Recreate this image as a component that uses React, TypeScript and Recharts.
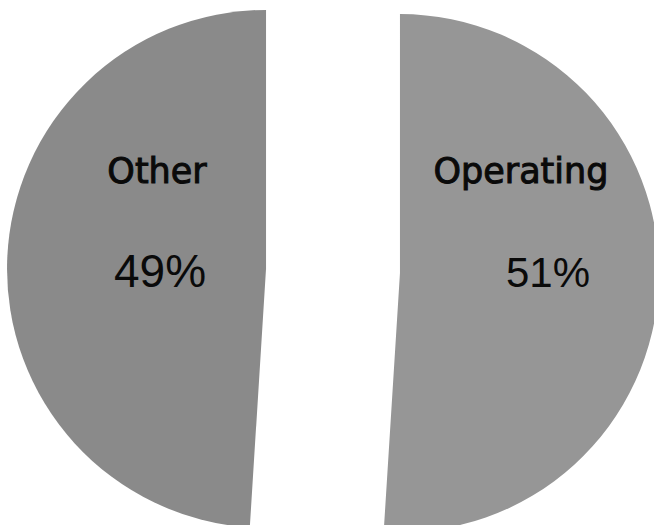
import React from "react";
import { Cell, Pie, PieChart } from "recharts";

const names = ["Operating", "Other"];
const shares = [51, 49];
const percentLabels = ["51%", "49%"];
const colors = ["#969696", "#8a8a8a"];

const data = names.map((name, i) => ({ name, value: shares[i] }));

const CX = 333;
const CY = 271;
const RADIUS = 259;
const EXPLODE = 67;
const START_ANGLE = 90;

// where each label sits, relative to its own (exploded) slice centre
const labelLayout: Record<string, { nameDx: number; pctDx: number; pctSize: number }> = {
  Operating: { nameDx: 121, pctDx: 148, pctSize: 42 },
  Other: { nameDx: -109, pctDx: -106, pctSize: 46 },
};

const total = shares.reduce((a, b) => a + b, 0);

const sliceOffsets = shares.map((v, i) => {
  const before = shares.slice(0, i).reduce((a, b) => a + b, 0);
  const mid = START_ANGLE - (360 * (before + v / 2)) / total;
  const rad = (mid * Math.PI) / 180;
  return { dx: EXPLODE * Math.cos(rad), dy: -EXPLODE * Math.sin(rad) };
});

export default function App() {
  return (
    <div style={{ position: "absolute", left: 0, top: 0, background: "#fff" }}>
      <PieChart width={654} height={525} margin={{ top: 0, right: 0, bottom: 0, left: 0 }}>
        {data.map((entry, i) => {
          const cx = CX + sliceOffsets[i].dx;
          const cy = CY + sliceOffsets[i].dy;
          const layout = labelLayout[entry.name];
          return (
            <Pie
              key={entry.name}
              data={data}
              dataKey="value"
              nameKey="name"
              cx={cx}
              cy={cy}
              outerRadius={RADIUS}
              startAngle={START_ANGLE}
              endAngle={START_ANGLE - 360}
              stroke="none"
              isAnimationActive={false}
              labelLine={false}
              label={(props: any) => {
                if (props.index !== i) return null;
                return (
                  <g>
                    <text
                      x={cx + layout.nameDx}
                      y={CY - 88}
                      textAnchor="middle"
                      fontFamily="DejaVu Sans"
                      fontSize={35}
                      fill="#0a0a0a"
                      stroke="#0a0a0a"
                      strokeWidth={1}
                    >
                      {entry.name}
                    </text>
                    <text
                      x={cx + layout.pctDx}
                      y={CY + 16}
                      textAnchor="middle"
                      fontFamily="Liberation Sans"
                      fontSize={layout.pctSize}
                      fill="#0a0a0a"
                    >
                      {percentLabels[i]}
                    </text>
                  </g>
                );
              }}
            >
              {data.map((d, j) => (
                <Cell key={d.name} fill={j === i ? colors[j] : "none"} />
              ))}
            </Pie>
          );
        })}
      </PieChart>
    </div>
  );
}
